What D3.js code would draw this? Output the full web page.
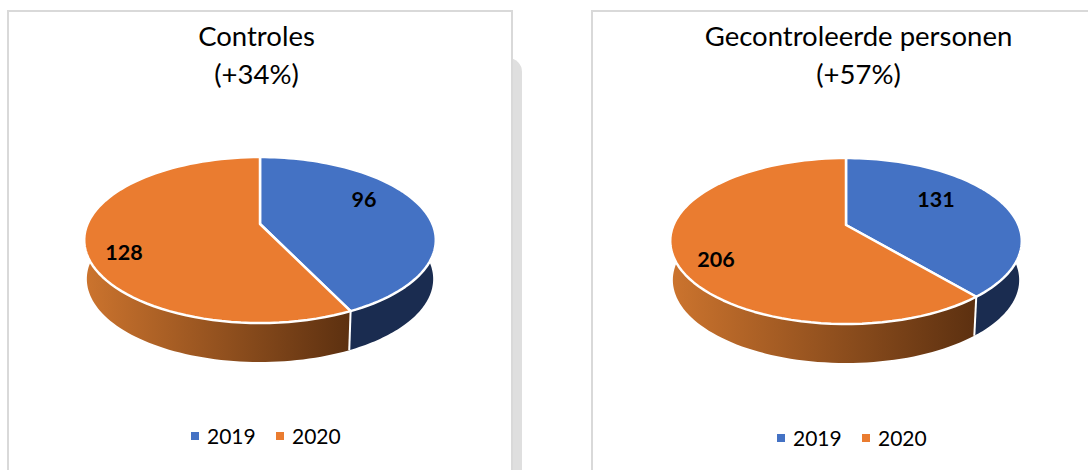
<!DOCTYPE html>
<html>
<head>
<meta charset="utf-8">
<script src="https://cdn.jsdelivr.net/npm/d3@7"></script>
<style>
  html, body { margin: 0; padding: 0; background: #fff; overflow: hidden; }
  text { font-family: Lato, "Open Sans", sans-serif; fill: #000; }
</style>
</head>
<body>
<svg id="chart" width="1088" height="470"></svg>
<script>
const years = ["2019", "2020"];
const titles = ["Controles", "Gecontroleerde personen"];
const changes = ["(+34%)", "(+57%)"];
const controles = [96, 128];
const personen = [131, 206];
const colors = ["#4472c4", "#ea7c30"];
const wallColors = ["#1a2c50", "url(#wallOrange)"];

const svg = d3.select("#chart");

const defs = svg.append("defs");
const grad = defs.append("linearGradient")
    .attr("id", "wallOrange")
    .attr("x1", 0).attr("x2", 1).attr("y1", 0).attr("y2", 0);
grad.append("stop").attr("offset", "0%").attr("stop-color", "#cc742e");
grad.append("stop").attr("offset", "100%").attr("stop-color", "#5c3010");

// grey shadow shape behind the left card
svg.append("rect")
    .attr("x", 480).attr("y", 58)
    .attr("width", 42).attr("height", 440)
    .attr("rx", 14)
    .attr("fill", "#dfdfdf");

// pie plane to screen, with a bit of perspective (front is nearer)
function projector(cx, cy) {
    const k = 0.193;
    const xScale = d3.scaleLinear().domain([-1, 1]).range([cx - 172.5, cx + 172.5]);
    const yScale = d3.scaleLinear().domain([-1, 1]).range([cy - 79.9, cy + 79.9]);
    return function(a, depth) {
        const u = Math.sin(a), v = -Math.cos(a);
        const w = 1 - k * v;
        const shrink = depth ? 0.985 : 1;
        return [
            xScale(0) + (xScale(u) - xScale(0)) / w * shrink,
            yScale(0) + (yScale(v) - yScale(0)) / w + (depth || 0)
        ];
    };
}

function arcAngles(a0, a1) {
    const n = 80;
    return d3.range(n + 1).map(i => a0 + (a1 - a0) * i / n);
}

function drawCard(g, i, values, opt) {
    // card
    g.append("rect")
        .attr("x", opt.cardX).attr("y", 11)
        .attr("width", opt.cardW).attr("height", 480)
        .attr("fill", "#fff")
        .attr("stroke", "#d9d9d9")
        .attr("stroke-width", 2);

    // title
    const title = g.append("text")
        .attr("text-anchor", "middle")
        .attr("font-size", 27.5);
    title.append("tspan").attr("x", opt.titleX).attr("y", 46).text(titles[i]);
    title.append("tspan").attr("x", opt.titleX).attr("y", 84).text(changes[i]);

    const pie = d3.pie().sort(null);
    const arcs = pie(values);
    const project = projector(opt.cx, opt.cy);
    const line = d3.line();
    const depth = 39;

    // side wall, only the front part of the rim shows
    const hidden = Math.PI / 2 - 0.4;
    arcs.forEach((d, j) => {
        const a0 = Math.max(d.startAngle, hidden);
        const a1 = Math.min(d.endAngle, 2 * Math.PI - hidden);
        const angles = arcAngles(a0, a1);
        const top = angles.map(a => project(a, 0));
        const bottom = angles.map(a => project(a, depth)).reverse();
        g.append("path")
            .attr("d", line(top.concat(bottom)) + "Z")
            .attr("fill", wallColors[j]);
    });

    // seam between the two walls
    const seam = arcs[0].endAngle;
    g.append("path")
        .attr("d", line([project(seam, 0), project(seam, depth)]))
        .attr("stroke", "#fff").attr("stroke-width", 2).attr("fill", "none");

    // top face
    const apex = [opt.cx, opt.cy];
    arcs.forEach((d, j) => {
        const rim = arcAngles(d.startAngle, d.endAngle).map(a => project(a, 0));
        g.append("path")
            .attr("d", line([apex].concat(rim)) + "Z")
            .attr("fill", colors[j])
            .attr("stroke", "#fff")
            .attr("stroke-width", 2.5)
            .attr("stroke-linejoin", "round");
    });

    // value labels
    g.selectAll(".value")
        .data(values)
        .join("text")
        .attr("class", "value")
        .attr("x", (d, j) => opt.labelX[j])
        .attr("y", (d, j) => opt.labelY[j])
        .attr("text-anchor", "middle")
        .attr("font-size", 21.5)
        .attr("font-weight", 700)
        .text(d => d);

    // legend
    const legendX = d3.scaleOrdinal().domain(years).range([opt.legendX, opt.legendX + 85]);
    years.forEach((y, j) => {
        g.append("rect")
            .attr("x", legendX(y)).attr("y", opt.legendY - 12)
            .attr("width", 8).attr("height", 8)
            .attr("fill", colors[j]);
        g.append("text")
            .attr("x", legendX(y) + 16).attr("y", opt.legendY)
            .attr("font-size", 21)
            .text(y);
    });
}

drawCard(svg.append("g"), 0, controles, {
    cardX: 8, cardW: 504, cx: 260, cy: 224, titleX: 256.5,
    labelX: [364, 124], labelY: [207, 260],
    legendX: 191, legendY: 444
});
drawCard(svg.append("g"), 1, personen, {
    cardX: 592, cardW: 520, cx: 846, cy: 225, titleX: 858.5,
    labelX: [936, 716], labelY: [207, 267],
    legendX: 777, legendY: 446
});
</script>
</body>
</html>
